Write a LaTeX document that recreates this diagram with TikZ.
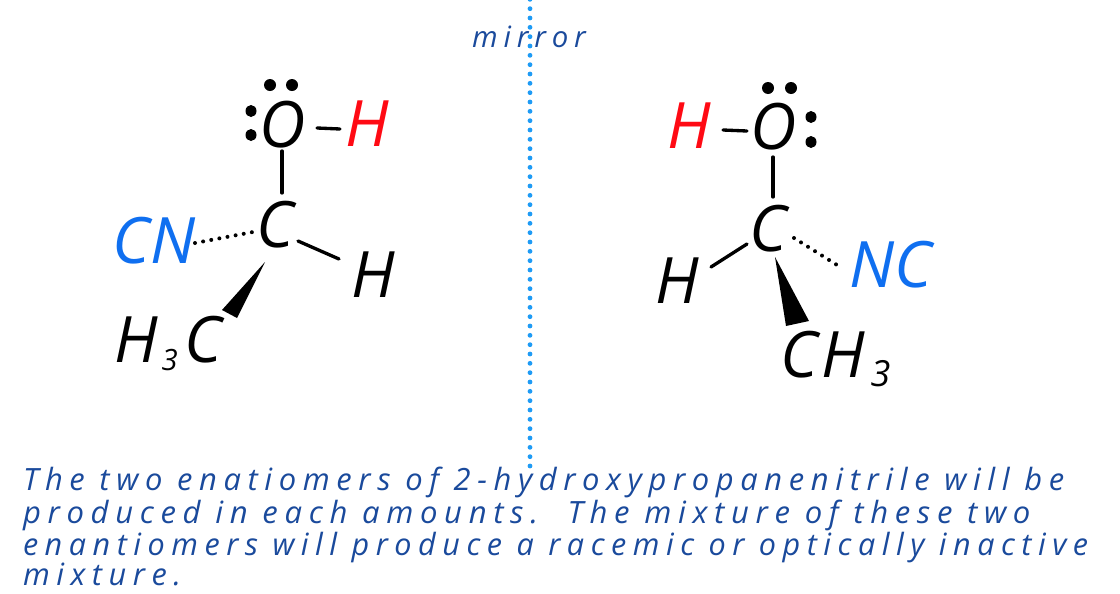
\documentclass[tikz,border=0pt]{standalone}
\usepackage{fontspec}
\setmainfont{Open Sans}
\newfontfamily\handfont[LetterSpace=21.5]{Open Sans}
\newfontfamily\mirrorfont[LetterSpace=20]{Open Sans}
\definecolor{inkblue}{HTML}{1A4A9C}
\definecolor{mirrorblue}{HTML}{1E9BF5}
\definecolor{cnblue}{HTML}{0F6FF0}
\definecolor{hred}{HTML}{FF0A14}
\tikzset{
  x=0.75pt,y=-0.75pt,
  atom/.style={inner sep=0pt,outer sep=0pt,font=\fontsize{48pt}{48pt}\selectfont\itshape},
  bond/.style={line width=2.5pt,line cap=round,black},
  hash/.style={line width=3pt,line cap=round,dash pattern=on 0pt off 6.2pt,black},
  wedgebond/.style={fill=black,draw=none},
  lone/.style={fill=black,draw=none},
  prose/.style={inner sep=0pt,outer sep=0pt,anchor=base west,text=inkblue,font=\fontsize{23pt}{23pt}\handfont\itshape},
}
\begin{document}
\begin{tikzpicture}
\useasboundingbox[fill=white] (0,0) rectangle (1120,593);
% mirror
\coordinate (mtop) at (530,-1);
\coordinate (mbot) at (530,466);
\node[inner sep=0pt,text=inkblue,font=\fontsize{22pt}{22pt}\mirrorfont\itshape] (mirrorlabel) at (529,37) {mirror};
\draw[line width=3.6pt,line cap=round,dash pattern=on 0pt off 7pt,mirrorblue] (mbot) -- (mtop);
% left molecule
\node[atom] (O1) at (283,125) {O};
\node[atom,text=hred] (H1) at (367,124) {H};
\node[atom] (C1) at (275,225) {C};
\node[atom,text=cnblue] (CN1) at (154,241) {CN};
\node[atom] (H2) at (373,275) {H};
\node[atom,anchor=base west] (G1) at (114,362) {H\hspace{3pt}\raisebox{-6pt}{\fontsize{22pt}{22pt}\selectfont 3}\hspace{5pt}C};
\coordinate (a1) at (317,128); \coordinate (a2) at (340,129);
\coordinate (b1) at (282,151); \coordinate (b2) at (282,193);
\coordinate (c1) at (298,241); \coordinate (c2) at (339,259);
\coordinate (d1) at (195,243); \coordinate (d2) at (253,232);
\coordinate (e0) at (265,262); \coordinate (e1) at (222,310); \coordinate (e2) at (237,318);
\draw[bond] (a1) -- (a2);
\draw[bond] (b1) -- (b2);
\draw[bond] (c1) -- (c2);
\draw[hash] (d1) -- (d2);
\fill[wedgebond] (e0) -- (e1) -- (e2) -- cycle;
\fill[lone] (270,85) ellipse (6 and 6);
\fill[lone] (292,85) ellipse (6 and 6);
\fill[lone] (251,111) ellipse (5.5 and 6);
\fill[lone] (251,135) ellipse (5.5 and 6);
% right molecule
\node[atom,text=hred] (H3) at (689,126) {H};
\node[atom] (O2) at (774,127) {O};
\node[atom] (C2) at (768,229) {C};
\node[atom] (H4) at (677,281) {H};
\node[atom,text=cnblue] (NC2) at (891,265) {NC};
\node[atom,anchor=base west] (G2) at (780,377) {C\hspace{3pt}H\hspace{4pt}\raisebox{-7pt}{\fontsize{27pt}{27pt}\selectfont 3}};
\coordinate (f1) at (723,130); \coordinate (f2) at (747,131);
\coordinate (g1) at (773,157); \coordinate (g2) at (773,197);
\coordinate (h1) at (711,267); \coordinate (h2) at (747,244);
\coordinate (i1) at (794,238); \coordinate (i2) at (837,265);
\coordinate (j0) at (775,257); \coordinate (j1) at (786,326); \coordinate (j2) at (809,321);
\draw[bond] (f1) -- (f2);
\draw[bond] (g1) -- (g2);
\draw[bond] (h1) -- (h2);
\draw[hash] (i1) -- (i2);
\fill[wedgebond] (j0) -- (j1) -- (j2) -- cycle;
\fill[lone] (768,88) ellipse (6 and 6);
\fill[lone] (791,88) ellipse (6 and 6);
\fill[lone] (811,117) ellipse (5.5 and 6);
\fill[lone] (811,142) ellipse (5.5 and 6);
% prose
\node[prose] (l1) at (23,490) {\scalebox{1.007}[1]{The two enatiomers of 2-hydroxypropanenitrile will be}};
\node[prose] (l2) at (23,523) {\scalebox{1.012}[1]{produced in each amounts.\ \ The mixture of these two}};
\node[prose] (l3) at (23,555) {\scalebox{0.995}[1]{enantiomers will produce a racemic or optically inactive}};
\node[prose] (l4) at (23,585) {mixture.};
\end{tikzpicture}
\end{document}
